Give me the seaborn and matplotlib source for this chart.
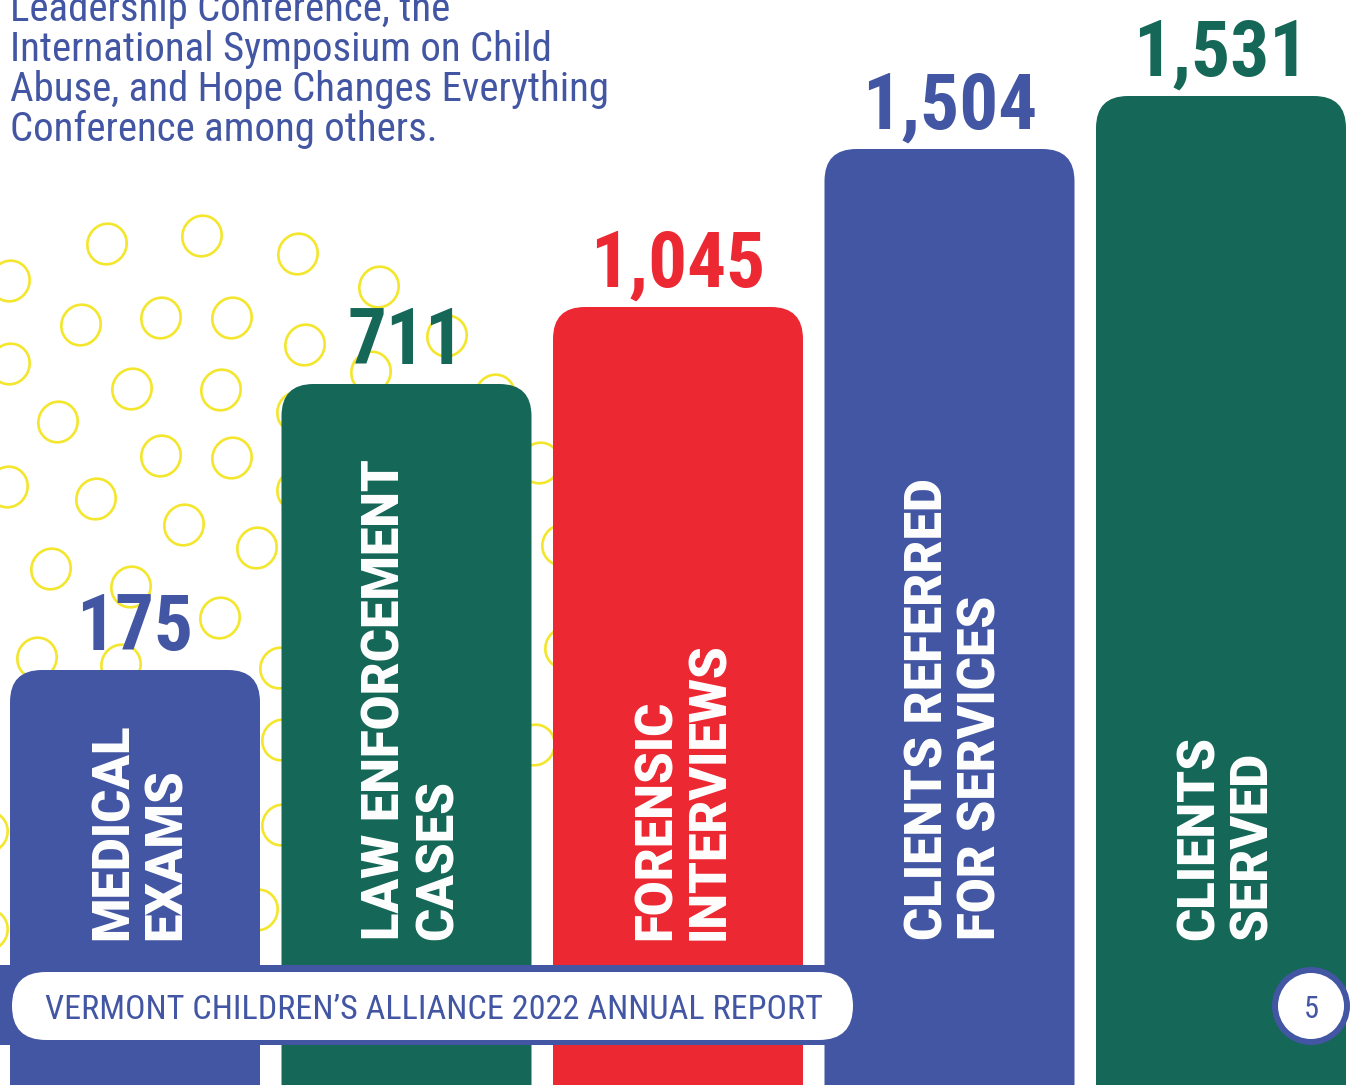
import numpy as np
import pandas as pd
import matplotlib
matplotlib.use("Agg")
import matplotlib.pyplot as plt
import matplotlib.transforms as mtransforms
from matplotlib.patches import FancyBboxPatch, Ellipse, Circle, Rectangle
from matplotlib import font_manager
import seaborn as sns

# ---- data ----
categories = ["MEDICAL\nEXAMS", "LAW ENFORCEMENT\nCASES", "FORENSIC\nINTERVIEWS",
              "CLIENTS REFERRED\nFOR SERVICES", "CLIENTS\nSERVED"]
values = [175, 711, 1045, 1504, 1531]
# heights of the bars as drawn on the page (the infographic is not to scale)
bar_heights = [415, 701, 778, 936, 989]
bar_colors = ["#4356A3", "#156757", "#EC2833", "#4356A3", "#156757"]

intro_lines = ["Leadership Conference, the",
               "International Symposium on Child",
               "Abuse, and Hope Changes Everything",
               "Conference among others."]
footer_text = "VERMONT CHILDREN\u2019S ALLIANCE 2022 ANNUAL REPORT"
page_number = "5"

# yellow doodle rings behind the bars (page pixels)
rings = [(107, 244), (202, 236), (298, 254), (10, 281), (379, 287), (81, 325),
         (161, 318), (232, 318), (305, 345), (447, 336), (10, 364), (371, 372),
         (132, 389), (221, 390), (495, 395), (58, 422), (297, 412), (540, 463),
         (161, 456), (232, 458), (8, 487), (96, 499), (184, 525), (257, 548),
         (297, 490), (562, 545), (51, 569), (131, 587), (220, 618), (37, 658),
         (121, 665), (280, 668), (565, 648), (282, 740), (535, 745), (282, 825),
         (258, 910), (-12, 832), (-12, 930)]

blue = "#4356A3"
yellow = "#F3E62C"

installed = {f.name for f in font_manager.fontManager.ttflist}


def pick(*names):
    for n in names:
        if n in installed:
            return n
    return "DejaVu Sans"


narrow = pick("Roboto Condensed", "Liberation Sans Narrow", "Open Sans Condensed", "Roboto")
heavy = pick("Roboto", "Lato", "Open Sans", "DejaVu Sans")

sns.set_style("white")

W, H = 1351, 1085
fig = plt.figure(figsize=(W / 100, H / 100), dpi=100)
ax = fig.add_axes([0, 0, 1, 1])
pix = mtransforms.Affine2D().scale(1 / W, -1 / H).translate(0, 1) + fig.transFigure
renderer = fig.canvas.get_renderer()

pitch = 271.5  # page pixels per category step
df = pd.DataFrame({"label": categories, "height": bar_heights})
sns.barplot(data=df, x="label", y="height", hue="label", palette=bar_colors,
            width=250 / pitch, saturation=1, legend=False, ax=ax, zorder=2)

# rounded tops
r = 32
for p in list(ax.patches):
    x, w, h = p.get_x(), p.get_width(), p.get_height()
    fc = p.get_facecolor()
    p.remove()
    ax.add_patch(FancyBboxPatch((x, -80), w, h + 80,
                                boxstyle=f"round,pad=0,rounding_size={r / pitch}",
                                mutation_aspect=pitch, fc=fc, ec="none", zorder=2))

x0 = -135 / pitch
ax.set_xlim(x0, x0 + W / pitch)
ax.set_ylim(0, H)
ax.axis("off")

# background rings
for cx, cy in rings:
    ax.add_patch(Ellipse((cx, cy), 39, 41, angle=25, transform=pix, fill=False,
                         ec=yellow, lw=1.9, zorder=1))

# value labels
val_texts = []
for i, (v, h, c) in enumerate(zip(values, bar_heights, bar_colors)):
    t = ax.text(i, h + 20, f"{v:,}", ha="center", va="baseline", color=c,
                fontsize=60, fontweight="bold", family=narrow, zorder=3)
    val_texts.append(t)
k = 175 / val_texts[2].get_window_extent(renderer).width
for t in val_texts:
    t.set_fontsize(60 * k)

# rotated category labels inside the bars
lab_texts = []
for i, lab in enumerate(categories):
    first, second = lab.split("\n")
    for line, off in [(first, -7), (second, 46)]:
        t = ax.text(i + off / pitch, 145, line, rotation=90, rotation_mode="anchor",
                    ha="left", va="baseline", color="white", fontsize=36,
                    fontweight="black", family=heavy, zorder=3)
        lab_texts.append(t)
k = 482 / lab_texts[2].get_window_extent(renderer).height
for t in lab_texts:
    t.set_fontsize(36 * k)

# intro paragraph
intro_texts = []
for n, line in enumerate(intro_lines):
    t = ax.text(10, 21 + 40 * n, line, transform=pix, ha="left", va="baseline",
                color=blue, fontsize=30, family=narrow)
    intro_texts.append(t)
k = 600 / intro_texts[2].get_window_extent(renderer).width
for t in intro_texts:
    t.set_fontsize(30 * k)

# footer band
ax.add_patch(Rectangle((0, 965), 830, 80, transform=pix, fc=blue, ec="none", zorder=4))
ax.add_patch(FancyBboxPatch((12, 972), 841, 68, boxstyle="round,pad=0,rounding_size=34",
                            transform=pix, fc="white", ec="none", zorder=5))
ft = ax.text(45, 1019, footer_text, transform=pix, ha="left", va="baseline",
             color=blue, fontsize=24, family=narrow, zorder=6)
k = 778 / ft.get_window_extent(renderer).width
ft.set_fontsize(24 * k)

ax.add_patch(Circle((1311, 1006), 36, transform=pix, fc="white", ec=blue, lw=4.3, zorder=5))
ax.text(1311, 1006, page_number, transform=pix, ha="center", va="center_baseline",
        color=blue, fontsize=22, family=narrow, zorder=6)

fig.savefig("out.png", dpi=100)
